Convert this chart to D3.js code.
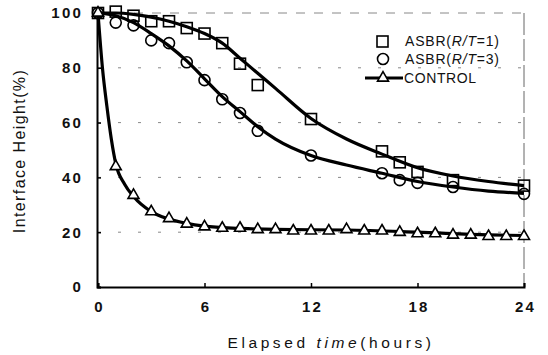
<!DOCTYPE html>
<html>
<head>
<meta charset="utf-8">
<script src="https://cdn.jsdelivr.net/npm/d3@7"></script>
<style>
  body { margin: 0; background: #fff; }
  text { font-family: "Liberation Sans", Arial, sans-serif; fill: #111; }
</style>
</head>
<body>
<div id="chart"></div>
<script>
// measured points
var sqHours = [0, 1, 2, 3, 4, 5, 6, 7, 8, 9, 12, 16, 17, 18, 20, 24];
var sqValues = [100, 100.5, 99, 97, 97, 94.5, 92.5, 89, 81.5, 73.7, 61.3, 49.5, 45.5, 42, 39, 37];

var ciHours = [0, 1, 2, 3, 4, 5, 6, 7, 8, 9, 12, 16, 17, 18, 20, 24];
var ciValues = [100, 96.5, 95.5, 90, 89, 82, 75.5, 68.5, 63.5, 57, 48, 41.5, 39, 38, 36.5, 34];

var ctHours = [0, 1, 2, 3, 4, 5, 6, 7, 8, 9, 10, 11, 12, 13, 14, 15, 16, 17, 18, 19, 20, 21, 22, 23, 24];
var ctValues = [100, 44, 33.5, 27.5, 25, 23, 22, 21.5, 21.5, 21, 21, 20.5, 20.5, 20.5, 21, 20.5, 20.5, 20, 19.5, 19.5, 19, 19, 18.5, 18.5, 18.5];

// fitted curves
var sqFitHours = [0, 1, 2, 3, 4, 5, 6, 7, 8, 9, 10, 12, 14, 16, 18, 20, 22, 24];
var sqFitValues = [100, 100, 99.5, 98.5, 97, 95, 92.5, 89, 83.5, 78, 72.5, 61.5, 54, 48.5, 43.5, 40.5, 38.5, 37];

var ciFitHours = [0, 1, 2, 3, 4, 5, 6, 7, 8, 9, 10, 12, 14, 16, 18, 20, 22, 24];
var ciFitValues = [100, 99, 96.5, 92.5, 88, 82.5, 76, 69.5, 64, 58.5, 54, 48, 44.5, 41.5, 38.5, 36.5, 35, 34.2];

var ctFitHours = [0, 0.25, 0.5, 0.75, 1, 1.5, 2, 3, 4, 5, 6, 8, 10, 14, 18, 22, 24];
var ctFitValues = [100, 80, 66, 54, 45, 37.5, 33, 27.5, 24.8, 23.2, 22.2, 21.4, 21, 20.8, 20, 19, 18.8];

var xTicks = [0, 6, 12, 18, 24];
var yTicks = [0, 20, 40, 60, 80, 100];

var W = 548, H = 355;
var svg = d3.select("#chart").append("svg")
    .attr("width", W).attr("height", H);

var x = d3.scaleLinear().domain([0, 24]).range([98, 524]);
var y = d3.scaleLinear().domain([0, 100]).range([287, 13]);

function pts(hs, vs) {
    return hs.map(function (h, i) { return [h, vs[i]]; });
}

// grid
svg.append("g").selectAll("line")
    .data(yTicks.filter(function (d) { return d > 0; }))
    .enter().append("line")
    .attr("x1", x(0)).attr("x2", x(24))
    .attr("y1", function (d) { return y(d); })
    .attr("y2", function (d) { return y(d); })
    .attr("stroke", "#888")
    .attr("stroke-width", 1)
    .attr("stroke-dasharray", function (d) { return d === 100 ? "9,9" : "3,17"; });

// right border
svg.append("line")
    .attr("x1", x(24)).attr("x2", x(24))
    .attr("y1", y(100)).attr("y2", y(0))
    .attr("stroke", "#666").attr("stroke-width", 1)
    .attr("stroke-dasharray", "22,4");

// axes
var xAxis = svg.append("g")
    .attr("transform", "translate(0," + y(0) + ")")
    .call(d3.axisBottom(x).tickValues(xTicks).tickSize(-4).tickPadding(14));
var yAxis = svg.append("g")
    .attr("transform", "translate(" + (x(0) - 1) + ",0)")
    .call(d3.axisLeft(y).tickValues(yTicks).tickSize(-4).tickPadding(14));

[xAxis, yAxis].forEach(function (g) {
    g.select(".domain").attr("stroke", "#000").attr("stroke-width", 2);
    g.selectAll(".tick line").attr("stroke", "#000").attr("stroke-width", 1.5);
    g.selectAll(".tick text")
        .style("font-family", "'Liberation Sans', Arial, sans-serif")
        .style("font-size", "15px")
        .style("font-weight", "bold")
        .style("letter-spacing", "2.2px")
        .attr("fill", "#111");
});
xAxis.selectAll(".tick text").attr("dx", "1px");

// curves
var line = d3.line()
    .x(function (d) { return x(d[0]); })
    .y(function (d) { return y(d[1]); })
    .curve(d3.curveMonotoneX);

[pts(sqFitHours, sqFitValues), pts(ciFitHours, ciFitValues), pts(ctFitHours, ctFitValues)]
    .forEach(function (p) {
        svg.append("path")
            .attr("d", line(p))
            .attr("fill", "none")
            .attr("stroke", "#000")
            .attr("stroke-width", 3.2)
            .attr("stroke-linejoin", "round");
    });

// markers
svg.append("g").selectAll("rect")
    .data(pts(sqHours, sqValues))
    .enter().append("rect")
    .attr("x", function (d) { return x(d[0]) - 5.5; })
    .attr("y", function (d) { return y(d[1]) - 5.5; })
    .attr("width", 11).attr("height", 11)
    .attr("fill", "none").attr("stroke", "#000").attr("stroke-width", 1.6);

svg.append("g").selectAll("circle")
    .data(pts(ciHours, ciValues))
    .enter().append("circle")
    .attr("cx", function (d) { return x(d[0]); })
    .attr("cy", function (d) { return y(d[1]); })
    .attr("r", 5.5)
    .attr("fill", "none").attr("stroke", "#000").attr("stroke-width", 1.6);

var tri = d3.symbol().type(d3.symbolTriangle).size(52);
svg.append("g").selectAll("path")
    .data(pts(ctHours, ctValues))
    .enter().append("path")
    .attr("d", tri)
    .attr("transform", function (d) { return "translate(" + x(d[0]) + "," + y(d[1]) + ")"; })
    .attr("fill", "#fff").attr("stroke", "#000").attr("stroke-width", 1.6);

// legend
var leg = svg.append("g");
leg.append("rect").attr("x", 377).attr("y", 36).attr("width", 11).attr("height", 11)
    .attr("fill", "none").attr("stroke", "#000").attr("stroke-width", 1.6);
leg.append("circle").attr("cx", 383).attr("cy", 59).attr("r", 5.5)
    .attr("fill", "none").attr("stroke", "#000").attr("stroke-width", 1.6);
leg.append("line").attr("x1", 365).attr("x2", 403).attr("y1", 78).attr("y2", 78)
    .attr("stroke", "#000").attr("stroke-width", 3.2);
leg.append("path").attr("d", tri).attr("transform", "translate(383,78)")
    .attr("fill", "#fff").attr("stroke", "#000").attr("stroke-width", 1.6);

var legLabels = [["ASBR(", "R/T", "=1)", 41], ["ASBR(", "R/T", "=3)", 59]];
legLabels.forEach(function (l) {
    var t = leg.append("text").attr("x", 405).attr("y", l[3])
        .attr("dy", "0.35em").style("font-size", "14px").style("letter-spacing", "0.8px");
    t.append("tspan").text(l[0]);
    t.append("tspan").style("font-style", "italic").text(l[1]);
    t.append("tspan").text(l[2]);
});
leg.append("text").attr("x", 404).attr("y", 78).attr("dy", "0.35em")
    .style("font-size", "14px").style("letter-spacing", "0.6px").text("CONTROL");

// axis titles
svg.append("text")
    .attr("transform", "translate(19,151) rotate(-90)")
    .attr("text-anchor", "middle").attr("dy", "0.35em")
    .style("font-size", "16px").style("letter-spacing", "1.4px")
    .text("Interface Height(%)");

var xt = svg.append("text")
    .attr("x", 331).attr("y", 343).attr("dy", "0.35em")
    .attr("text-anchor", "middle")
    .style("font-size", "15.5px").style("letter-spacing", "3.6px");
xt.append("tspan").text("Elapsed ");
xt.append("tspan").style("font-style", "italic").text("time");
xt.append("tspan").text("(hours)");
</script>
</body>
</html>
